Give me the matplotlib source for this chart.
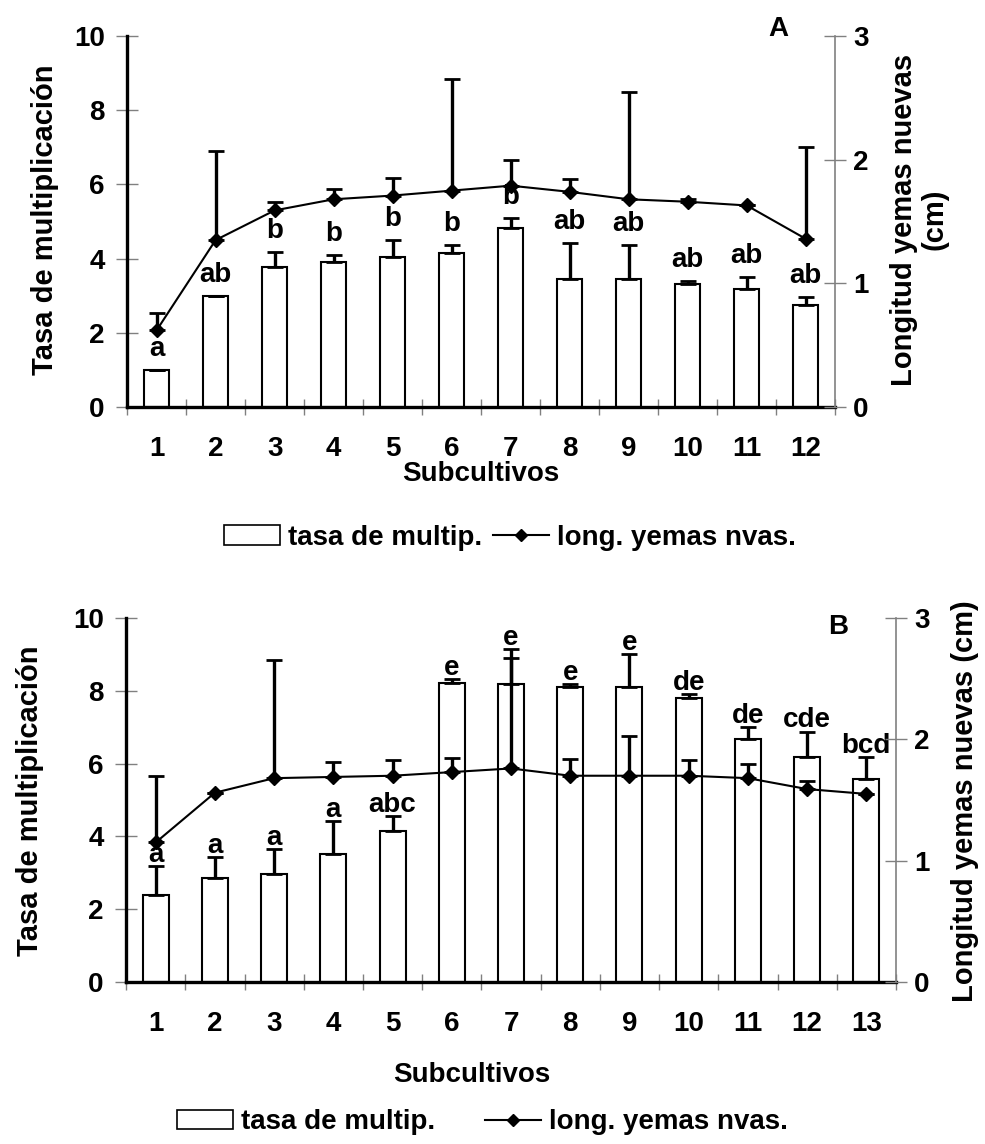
import numpy as np
import matplotlib
matplotlib.use("Agg")
from matplotlib import pyplot as plt
from matplotlib.patches import Patch
from matplotlib.lines import Line2D

plt.rcParams['font.family'] = ['Liberation Sans', 'DejaVu Sans']
plt.rcParams['font.weight'] = 'bold'

# --- datos grafico A ---
sub_a = [1, 2, 3, 4, 5, 6, 7, 8, 9, 10, 11, 12]
tasa_a = [1.0, 3.0, 3.77, 3.91, 4.04, 4.14, 4.83, 3.45, 3.45, 3.31, 3.17, 2.76]
tasa_a_err = [0.0, 0.0, 0.42, 0.2, 0.46, 0.22, 0.26, 0.98, 0.92, 0.1, 0.33, 0.2]
long_a = [0.62, 1.35, 1.59, 1.68, 1.71, 1.75, 1.79, 1.74, 1.68, 1.66, 1.63, 1.36]
long_a_err = [0.14, 0.72, 0.07, 0.08, 0.14, 0.9, 0.21, 0.1, 0.87, 0.02, 0.0, 0.74]
letras_a = ['a', 'ab', 'b', 'b', 'b', 'b', 'b', 'ab', 'ab', 'ab', 'ab', 'ab']

# --- datos grafico B ---
sub_b = [1, 2, 3, 4, 5, 6, 7, 8, 9, 10, 11, 12, 13]
tasa_b = [2.38, 2.87, 2.96, 3.52, 4.15, 8.21, 8.2, 8.11, 8.11, 7.81, 6.67, 6.19, 5.58]
tasa_b_err = [0.8, 0.57, 0.69, 0.91, 0.41, 0.11, 0.95, 0.08, 0.91, 0.1, 0.34, 0.69, 0.6]
long_b = [1.15, 1.56, 1.68, 1.69, 1.7, 1.73, 1.76, 1.7, 1.7, 1.7, 1.68, 1.59, 1.55]
long_b_err = [0.55, 0.0, 0.97, 0.12, 0.13, 0.12, 0.91, 0.14, 0.33, 0.13, 0.12, 0.07, 0.0]
letras_b = ['a', 'a', 'a', 'a', 'abc', 'e', 'e', 'e', 'e', 'de', 'de', 'cde', 'bcd']

FS = 20
gris = '#808080'

fig = plt.figure(figsize=(9.85, 11.44), dpi=100)


def grafico(rect, x, tasa, tasa_err, longi, longi_err, letras, ancho, panel, label_off):
    ax = fig.add_axes(rect)
    n = len(x)
    ax.bar(x, tasa, width=ancho, color='white', edgecolor='black', linewidth=1.5,
           yerr=[np.zeros(n), tasa_err],
           error_kw=dict(ecolor='black', elinewidth=2.4, capsize=6, capthick=2), zorder=2)
    ax.set_xlim(0.5, n + 0.5)
    ax.set_ylim(0, 10)
    ax.set_yticks([0, 2, 4, 6, 8, 10])
    ax.set_xticks(x)
    ax.set_xticks(np.arange(0.5, n + 1, 1), minor=True)
    ax.tick_params(axis='x', which='major', length=0, pad=21, labelsize=FS)
    ax.tick_params(axis='x', which='minor', length=11, direction='inout', color=gris, width=1)
    ax.tick_params(axis='y', length=16, direction='inout', color=gris, width=1, pad=8, labelsize=FS)
    for s in ['top', 'right']:
        ax.spines[s].set_visible(False)
    ax.spines['left'].set_linewidth(2.4)
    ax.spines['bottom'].set_linewidth(2.4)
    for i in range(n):
        ax.annotate(letras[i], (x[i], tasa[i] + tasa_err[i]), xytext=(0, label_off),
                    textcoords='offset points', ha='center', va='center',
                    fontsize=FS, fontweight='bold', zorder=5)

    ax2 = ax.twinx()
    ax2.errorbar(x, longi, yerr=[np.zeros(n), longi_err], color='black', lw=1.5,
                 marker='D', markersize=7, ecolor='black', elinewidth=2.4, capsize=6, capthick=2)
    ax2.set_ylim(0, 3)
    ax2.set_yticks([0, 1, 2, 3])
    ax2.set_xlim(0.5, n + 0.5)
    for s in ['top', 'left', 'bottom']:
        ax2.spines[s].set_visible(False)
    ax2.spines['right'].set_color(gris)
    ax2.spines['right'].set_linewidth(1.2)
    ax2.tick_params(axis='y', length=16, direction='inout', color=gris, width=1, pad=5, labelsize=FS)
    for t in ax.get_xticklabels() + ax.get_yticklabels() + ax2.get_yticklabels():
        t.set_fontweight('bold')
    ax2.text(panel[0], panel[1], panel[2], transform=ax.transAxes, fontsize=FS,
             fontweight='bold', ha='center', va='center')
    return ax, ax2


grafico([0.129, 0.6442, 0.719, 0.3243], sub_a, tasa_a, tasa_a_err, long_a, long_a_err,
        letras_a, 0.42, (0.92, 1.02, 'A'), 15)
grafico([0.128, 0.1416, 0.7816, 0.3182], sub_b, tasa_b, tasa_b_err, long_b, long_b_err,
        letras_b, 0.44, (0.925, 0.975, 'B'), 8)

# titulos de ejes
fig.text(0.046, 0.808, 'Tasa de multiplicación', rotation=90, ha='center', va='center', fontsize=21)
fig.text(0.933, 0.808, 'Longitud yemas nuevas\n(cm)', rotation=90, ha='center', va='center',
         fontsize=21, linespacing=1.1)
fig.text(0.488, 0.586, 'Subcultivos', ha='center', va='center', fontsize=FS)

fig.text(0.03, 0.30, 'Tasa de multiplicación', rotation=90, ha='center', va='center', fontsize=21)
fig.text(0.98, 0.30, 'Longitud yemas nuevas (cm)', rotation=90, ha='center', va='center', fontsize=21)
fig.text(0.479, 0.060, 'Subcultivos', ha='center', va='center', fontsize=FS)

# leyendas
barra = Patch(facecolor='white', edgecolor='black', linewidth=1.2)
linea = Line2D([], [], color='black', lw=1.5, marker='D', markersize=6)
fig.legend([barra, linea], ['tasa de multip.', 'long. yemas nvas.'], loc='center',
           bbox_to_anchor=(0.518, 0.530), ncol=2, frameon=False, fontsize=FS,
           handlelength=2.0, handletextpad=0.3, columnspacing=0.4)
fig.legend([barra, linea], ['tasa de multip.', 'long. yemas nvas.'], loc='center',
           bbox_to_anchor=(0.49, 0.019), ncol=2, frameon=False, fontsize=FS,
           handlelength=2.0, handletextpad=0.3, columnspacing=1.8)

plt.savefig('out.png', dpi=100)
